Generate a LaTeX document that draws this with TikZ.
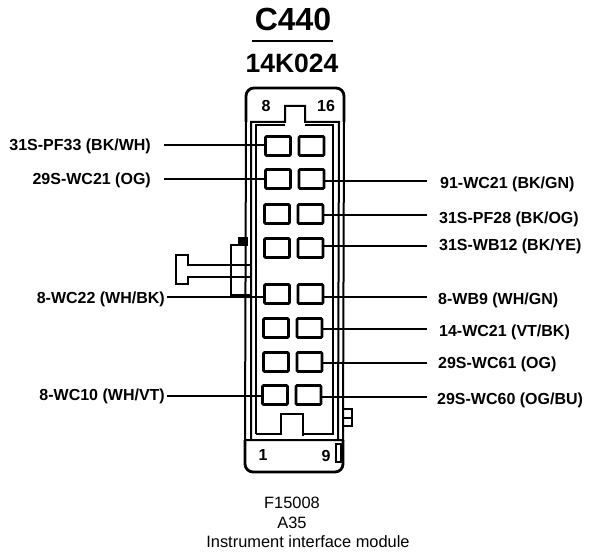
\documentclass[tikz,border=0pt]{standalone}
\usepackage{fontspec}
\setmainfont{Liberation Sans}
\usetikzlibrary{positioning}

\begin{document}
\begin{tikzpicture}[x=1pt,y=-1pt,node distance=8.5pt,
    cavity/.style={draw,rounded corners=1pt,line width=2.6pt,minimum width=25pt,minimum height=19pt,inner sep=0pt,outer sep=0pt},
    wirelabel/.style={font=\bfseries\fontsize{16}{16}\selectfont,inner sep=0pt},
    captext/.style={font=\fontsize{16.4}{16}\selectfont,inner sep=0pt},
    wire/.style={line width=1.8pt},
    heavywire/.style={line width=2.8pt},
    wall/.style={line width=2pt}]
            \useasboundingbox (0,0) rectangle (608,556);
            % titles
            \node[inner sep=0pt,font=\bfseries\fontsize{32}{32}\selectfont] (title) at (293,19) {C440};
            \node[inner sep=0pt,font=\bfseries\fontsize{26.5}{26}\selectfont] (part) at (292,63) {14K024};
            \draw[line width=1.8pt] (252,41) -- (333,41);
            % connector body
            \draw[line width=2.8pt,rounded corners=8pt] (246,122) -- (246,88) -- (344,88) -- (344,122);
            \draw[line width=2.8pt,rounded corners=8pt] (245,440) -- (245,472) -- (343,472) -- (343,440);
            \draw[wall] (246,122) -- (245,440) -- (343,440) -- (344,122);
            \draw[wall] (251,440) -- (251,122) -- (285,122) -- (285,106) -- (305,106) -- (305,122) -- (339,122) -- (338,440);
            \draw[wall] (256,434) -- (256,125) -- (285,125);
            \draw[wall] (305,125) -- (333,125) -- (333,434) -- (303,434);
            \draw[line width=2.8pt] (256,434) -- (281,434) -- (281,414) -- (303,414) -- (303,436);
            % cavities
            \node[cavity] (c1a) at (278,146) {};
            \node[cavity] (c1b) [right=of c1a] {};
            \node[cavity] (c2a) at (278,179) {};
            \node[cavity] (c2b) [right=of c2a] {};
            \node[cavity] (c3a) at (277,214) {};
            \node[cavity] (c3b) [right=of c3a] {};
            \node[cavity] (c4a) at (277,248) {};
            \node[cavity] (c4b) [right=of c4a] {};
            \node[cavity] (c5a) at (277,294) {};
            \node[cavity] (c5b) [right=of c5a] {};
            \node[cavity] (c6a) at (276,328) {};
            \node[cavity] (c6b) [right=of c6a] {};
            \node[cavity] (c7a) at (276,362) {};
            \node[cavity] (c7b) [right=of c7a] {};
            \node[cavity] (c8a) at (275,395) {};
            \node[cavity] (c8b) [right=of c8a] {};
            % pin numbers
            \node[wirelabel] (pin8) at (266,106) {8};
            \node[wirelabel] (pin16) at (326,106) {16};
            \node[wirelabel] (pin1) at (263,455) {1};
            \node[wirelabel] (pin9) at (326,456) {9};
            % latch and tabs
            \draw[line width=2.4pt] (250,265) -- (188,265) -- (188,255) -- (176,255) -- (176,284) -- (188,284) -- (188,277) -- (250,277);
            \draw[line width=2.6pt] (248,245) -- (231,245) -- (231,295) -- (250,295);
            \fill (238,237) rectangle (248,244);
            \draw[line width=2.4pt] (342,409) -- (352,409) -- (352,426) -- (342,426);
            \draw[line width=2pt] (342,418) -- (352,418);
            \draw[line width=2.2pt] (341,444) -- (336,444) -- (336,462) -- (341,462) -- cycle;
            % wire ends
            \coordinate (w1) at (164,145);
            \coordinate (w2) at (164,179);
            \coordinate (w5) at (167,297);
            \coordinate (w8) at (167,396);
            \coordinate (e2) at (427,181);
            \coordinate (e3) at (427,215);
            \coordinate (e4) at (427,246);
            \coordinate (e5) at (427,297);
            \coordinate (e6) at (427,329);
            \coordinate (e7) at (427,363);
            \coordinate (e8) at (427,397);
            \draw[wire] (w1) -- (w1 -| c1a.west);
            \draw[wire] (w2) -- (w2 -| c2a.west);
            \draw[wire] (w5) -- (w5 -| c5a.west);
            \draw[heavywire] (w8) -- (w8 -| c8a.west);
            \draw[wire] (e2) -- (e2 -| c2b.east);
            \draw[wire] (e3) -- (e3 -| c3b.east);
            \draw[heavywire] (e4) -- (e4 -| c4b.east);
            \draw[wire] (e5) -- (e5 -| c5b.east);
            \draw[wire] (e6) -- (e6 -| c6b.east);
            \draw[heavywire] (e7) -- (e7 -| c7b.east);
            \draw[heavywire] (e8) -- (e8 -| c8b.east);
            % wire labels
            \node[wirelabel,anchor=east] (l1) at (151,146) {31S-PF33 (BK/WH)};
            \node[wirelabel,anchor=east] (l2) at (151,180) {29S-WC21 (OG)};
            \node[wirelabel,anchor=east] (l5) at (165,299) {8-WC22 (WH/BK)};
            \node[wirelabel,anchor=east] (l8) at (165,396) {8-WC10 (WH/VT)};
            \node[wirelabel,anchor=west] (r2) at (440,184) {91-WC21 (BK/GN)};
            \node[wirelabel,anchor=west] (r3) at (439,219) {31S-PF28 (BK/OG)};
            \node[wirelabel,anchor=west] (r4) at (439,246) {31S-WB12 (BK/YE)};
            \node[wirelabel,anchor=west] (r5) at (438,300) {8-WB9 (WH/GN)};
            \node[wirelabel,anchor=west] (r6) at (439,332) {14-WC21 (VT/BK)};
            \node[wirelabel,anchor=west] (r7) at (438,364) {29S-WC61 (OG)};
            \node[wirelabel,anchor=west] (r8) at (437,400) {29S-WC60 (OG/BU)};
            % caption
            \node[captext] (fig) at (292,503) {F15008};
            \node[captext] (loc) at (292,523) {A35};
            \node[captext] (cap) at (308,542) {Instrument interface module};
        \end{tikzpicture}
\end{document}
